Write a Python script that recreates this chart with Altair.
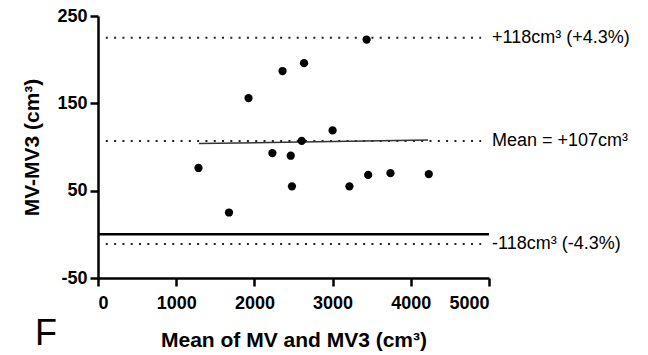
import altair as alt
import pandas as pd

# Data
mean_vals = [1285, 1675, 1925, 2230, 2360, 2465, 2480, 2605, 2635, 3000, 3215, 3435, 3455, 3740, 4230]
diff_vals = [76, 25, 156, 93, 187, 90, 55, 107, 196, 119, 55, 223, 68, 70, 69]

limit_vals = [225, 107, -11]
limit_labels = ["+118cm³ (+4.3%)", "Mean = +107cm³", "-118cm³ (-4.3%)"]
limit_x_start = [100, 100, 100]
limit_x_end = [4900, 4900, 4900]

zero_line_y = [0]
zero_x_start = [0]
zero_x_end = [5000]

reg_x = [1290, 4220]
reg_y = [104, 108]

x_ticks = [0, 1000, 2000, 3000, 4000, 5000]
y_ticks = [-50, 50, 150, 250]

FONT = "Liberation Sans"

pts = pd.DataFrame({"m": mean_vals, "d": diff_vals})
lims = pd.DataFrame({"y": limit_vals, "label": limit_labels,
                     "x1": limit_x_start, "x2": limit_x_end})
zero = pd.DataFrame({"y": zero_line_y, "x1": zero_x_start, "x2": zero_x_end})
reg = pd.DataFrame({"x": reg_x, "y": reg_y})
panel = pd.DataFrame({"t": ["F"]})

xscale = alt.Scale(domain=[0, 5000], nice=False, zero=False)
yscale = alt.Scale(domain=[-50, 250], nice=False, zero=False)

xaxis = alt.Axis(values=x_ticks, title="Mean of MV and MV3 (cm³)", titleY=68,
                 titleBaseline="alphabetic", labelPadding=8, tickSize=8,
                 labelExpr="'' + datum.value")
yaxis = alt.Axis(values=y_ticks, title="MV-MV3 (cm³)", titleX=-60,
                 titleBaseline="alphabetic", labelPadding=3, tickSize=8,
                 labelExpr="'' + datum.value")

points = alt.Chart(pts).mark_circle(size=68, color="black", opacity=1).encode(
    x=alt.X("m:Q", scale=xscale, axis=xaxis),
    y=alt.Y("d:Q", scale=yscale, axis=yaxis),
)

dotted = alt.Chart(lims).mark_rule(color="#222222", strokeWidth=2,
                                   strokeDash=[2, 6.3]).encode(
    x=alt.X("x1:Q", scale=xscale), x2="x2:Q",
    y=alt.Y("y:Q", scale=yscale),
)

labels = alt.Chart(lims).mark_text(align="left", baseline="middle", dx=3,
                                   font=FONT, fontSize=18, color="black").encode(
    x=alt.value(391),
    y=alt.Y("y:Q", scale=yscale),
    text="label:N",
)

zline = alt.Chart(zero).mark_rule(color="black", strokeWidth=2.5).encode(
    x=alt.X("x1:Q", scale=xscale), x2="x2:Q",
    y=alt.Y("y:Q", scale=yscale),
)

regline = alt.Chart(reg).mark_line(color="#333333", strokeWidth=1.5).encode(
    x=alt.X("x:Q", scale=xscale),
    y=alt.Y("y:Q", scale=yscale),
)

flabel = alt.Chart(panel).mark_text(align="left", baseline="alphabetic",
                                    font=FONT, fontSize=36, color="black").encode(
    x=alt.value(-63), y=alt.value(329), text="t:N",
)

chart = alt.layer(dotted, zline, regline, points, labels, flabel).properties(
    width=391, height=262,
    autosize=alt.AutoSizeParams(type="none"),
    padding={"left": 98, "top": 16, "right": 159, "bottom": 77},
    background="white",
).configure_view(stroke=None).configure_axis(
    grid=False, domainColor="black", domainWidth=2.5, tickColor="black",
    tickWidth=2.5, labelFont=FONT, labelFontSize=18, labelFontWeight="bold",
    labelColor="black", titleFont=FONT, titleFontSize=21, titleFontWeight="bold",
    titleColor="black",
)

chart.save("out.html", embed_options={"renderer": "svg", "actions": False})
